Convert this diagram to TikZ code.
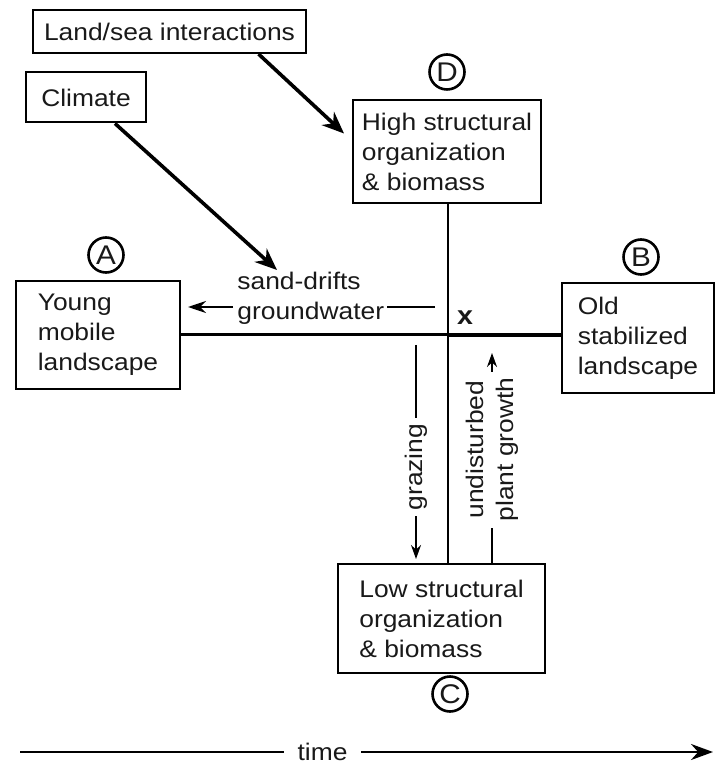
\documentclass[tikz,border=0pt]{standalone}
\usepackage{fontspec}
\setmainfont[FakeStretch=1.1]{Liberation Sans}
\usetikzlibrary{arrows.meta}

\tikzset{
  box/.style={draw, line width=1pt, inner sep=0pt, align=left},
  tag/.style={draw, circle, line width=1.3pt, minimum size=17.5pt, inner sep=0pt,
    font=\fontsize{13.5}{15}\selectfont},
  push/.style={line width=1.8pt, -{Stealth[length=11pt, width=9pt]}},
  flow/.style={line width=0.8pt, -{Stealth[length=7pt, width=5pt]}},
  axis/.style={line width=1.5pt},
  gap/.style={fill=white, inner xsep=3pt, inner ysep=1pt},
}

\begin{document}
\begin{tikzpicture}[x=0.5pt, y=-0.5pt, font=\fontsize{12}{15}\selectfont, text=black!90]
  \useasboundingbox (0,0) rectangle (715,763);

  % drivers
  \node[box, minimum width=136.5pt, minimum height=21.5pt] (lsea) at (169.5,31.5) {Land/sea interactions};
  \node[box, minimum width=60pt, minimum height=25pt] (clim) at (86,97.5) {Climate};

  % states
  \node[box, minimum width=94pt, minimum height=51.5pt] (high) at (447,151.5) {High structural\\organization\\\& biomass};
  \node[box, minimum width=82pt, minimum height=54pt] (young) at (98,335) {Young\\mobile\\landscape};
  \node[box, minimum width=76pt, minimum height=55pt] (old) at (638,338) {Old\\stabilized\\landscape};
  \node[box, minimum width=103.5pt, minimum height=54.5pt] (low) at (441.5,618.5) {Low structural\\organization\\\& biomass};

  \node[tag] (tagA) at (106,255) {A};
  \node[tag] (tagB) at (641,257) {B};
  \node[tag] (tagC) at (450,694) {C};
  \node[tag] (tagD) at (447,72) {D};

  % axes
  \coordinate (hub) at ([xshift=0.5pt]high.south |- young.east);
  \draw[axis] (young.east) -- (hub);
  \draw[axis, line width=2pt] (hub) -- (hub -| old.west);
  \draw[axis, line width=1.2pt] (hub |- high.south) -- (hub |- low.north);
  \node[font=\fontsize{13}{15}\selectfont\bfseries] (xmark) at (465,318) {x};

  % forcing
  \node[anchor=north west, inner sep=0pt, align=left] (sdg) at (237,272) {sand-drifts\\groundwater};
  \draw[push] ([xshift=14.5pt]clim.south) -- ([xshift=20pt, yshift=1pt]sdg.north west);
  \draw[push] ([xshift=44.5pt]lsea.south) -- ([xshift=-4pt, yshift=9pt]high.west);

  \coordinate (gwr) at (435,307);
  \draw[line width=0.9pt] (gwr) -- ([xshift=1pt]gwr -| sdg.east);
  \draw[flow, line width=1.1pt, -{Stealth[length=9pt, width=6pt]}, shorten <=2pt, shorten >=3.5pt] (gwr -| sdg.west) -- (gwr -| young.east);

  \coordinate (gtop) at (416,345);
  \coordinate (utop) at (492,353);
  \draw[flow, shorten >=2pt] (gtop) -- node[gap, rotate=90, pos=0.56] {grazing} (gtop |- low.north);
  \draw[flow] (utop |- low.north) -- node[gap, rotate=90, pos=0.54, align=center] {undisturbed\\plant growth} (utop);

  % time
  \coordinate (t0) at (20,752);
  \coordinate (t1) at (713,752);
  \draw[flow, line width=1.3pt, -{Stealth[length=11pt, width=8pt]}] (t0) -- node[fill=white, inner xsep=7pt, pos=0.4365] {time} (t1);
\end{tikzpicture}
\end{document}
